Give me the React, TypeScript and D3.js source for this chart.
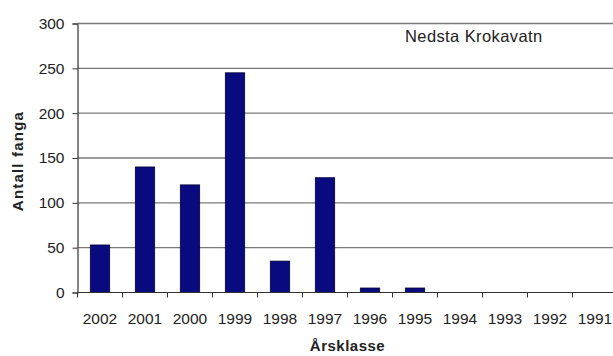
import React, { useRef, useEffect } from 'react';
import * as d3 from 'd3';

const years = ['2002', '2001', '2000', '1999', '1998', '1997', '1996', '1995', '1994', '1993', '1992', '1991'];
const catch_ = [53, 140, 120, 245, 35, 128, 5, 5, 0, 0, 0, 0];
const yTicks = [0, 50, 100, 150, 200, 250, 300];

export default function App() {
    const svgRef = useRef<SVGSVGElement>(null);

    useEffect(() => {
        const svg = d3.select(svgRef.current);
        svg.selectAll('*').remove();

        const left = 77.5, right = 617.5, top = 23.5, bottom = 292.5;
        const font = 'Arial, Liberation Sans, sans-serif';

        const x = d3.scaleBand()
            .domain(years)
            .range([left, right])
            .paddingInner(0.57)
            .paddingOuter(0.285);

        const y = d3.scaleLinear()
            .domain([0, 300])
            .range([bottom, top]);

        // gridlines
        svg.append('g')
            .selectAll('line')
            .data(yTicks.filter(d => d > 0))
            .join('line')
            .attr('x1', left)
            .attr('x2', 613)
            .attr('y1', d => y(d))
            .attr('y2', d => y(d))
            .attr('stroke', '#7a7a7a')
            .attr('stroke-width', 1.3);

        // bars
        svg.append('g')
            .selectAll('rect')
            .data(years)
            .join('rect')
            .attr('x', d => x(d)!)
            .attr('width', x.bandwidth())
            .attr('y', (d, i) => y(catch_[i]))
            .attr('height', (d, i) => bottom - y(catch_[i]))
            .attr('fill', '#0a0a80')
            .attr('stroke', '#000033')
            .attr('stroke-width', 0.8);

        // y axis
        const yAxis = d3.axisLeft(y).tickValues(yTicks).tickSize(5).tickPadding(8);
        const gy = svg.append('g')
            .attr('transform', `translate(${left},0)`)
            .call(yAxis);
        gy.select('.domain').attr('stroke', '#333').attr('stroke-width', 1.2);
        gy.selectAll('.tick line').attr('stroke', '#333');
        gy.selectAll('.tick text')
            .attr('font-family', font)
            .attr('font-size', 15.5)
            .attr('fill', '#222');

        // x axis
        const gx = svg.append('g')
            .attr('transform', `translate(0,${bottom})`);
        gx.append('line')
            .attr('x1', left).attr('x2', 613)
            .attr('stroke', '#333').attr('stroke-width', 1.2);
        const step = x.step();
        gx.selectAll('line.tk')
            .data(d3.range(years.length + 1))
            .join('line')
            .attr('class', 'tk')
            .attr('x1', i => left + i * step)
            .attr('x2', i => left + i * step)
            .attr('y1', 0)
            .attr('y2', 5)
            .attr('stroke', '#333');
        gx.selectAll('text')
            .data(years)
            .join('text')
            .attr('x', d => x(d)! + x.bandwidth() / 2)
            .attr('y', 31)
            .attr('text-anchor', 'middle')
            .attr('font-family', font)
            .attr('font-size', 15.5)
            .attr('fill', '#222')
            .text(d => d);

        // titles
        svg.append('text')
            .attr('x', 405)
            .attr('y', 42)
            .attr('font-family', font)
            .attr('font-size', 16.5)
            .attr('letter-spacing', 0.4)
            .attr('fill', '#222')
            .text('Nedsta Krokavatn');

        svg.append('text')
            .attr('x', (left + right) / 2)
            .attr('y', 351)
            .attr('text-anchor', 'middle')
            .attr('font-family', font)
            .attr('font-size', 15)
            .attr('font-weight', 'bold')
            .attr('letter-spacing', 0.5)
            .attr('fill', '#222')
            .text('Årsklasse');

        svg.append('text')
            .attr('transform', 'translate(23,161) rotate(-90)')
            .attr('text-anchor', 'middle')
            .attr('font-family', font)
            .attr('font-size', 15)
            .attr('font-weight', 'bold')
            .attr('letter-spacing', 1.2)
            .attr('fill', '#222')
            .text('Antall fanga');
    }, []);

    return (
        <svg ref={svgRef} width={613} height={356}
            style={{ position: 'absolute', left: 0, top: 0, background: '#fff' }} />
    );
}
